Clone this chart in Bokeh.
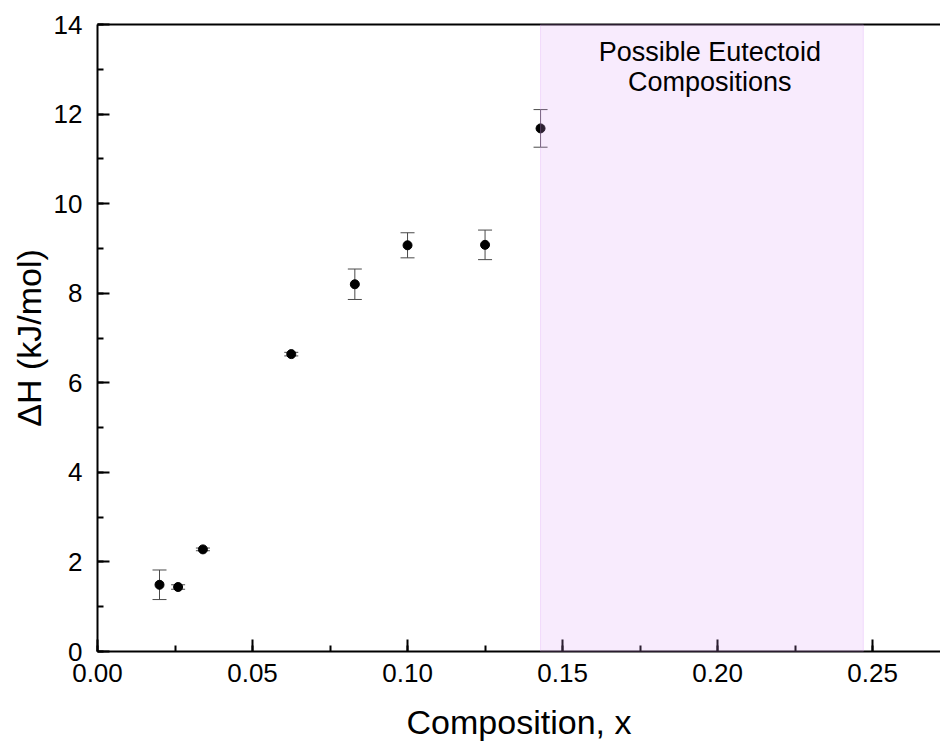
from bokeh.plotting import figure
from bokeh.models import (Range1d, LinearAxis, SingleIntervalTicker, FixedTicker,
                          NumeralTickFormatter, Whisker, ColumnDataSource, BoxAnnotation,
                          Label, TeeHead)
from bokeh.embed import file_html
from bokeh.resources import INLINE

# ---- data ----
composition = [0.020, 0.026, 0.034, 0.0625, 0.083, 0.100, 0.125, 0.1429]
delta_h = [1.49, 1.44, 2.28, 6.64, 8.20, 9.07, 9.08, 11.68]
delta_h_err = [0.33, 0.05, 0.03, 0.04, 0.34, 0.28, 0.33, 0.42]
eutectoid_range = [0.1429, 0.247]
eutectoid_label = "Possible Eutectoid\nCompositions"
eutectoid_label_pos = [0.1975, 13.72]
x_title = "Composition, x"
y_title = "ΔH (kJ/mol)"

FONT = "Liberation Sans"

src = ColumnDataSource(dict(
    x=composition, y=delta_h,
    lo=[a - b for a, b in zip(delta_h, delta_h_err)],
    hi=[a + b for a, b in zip(delta_h, delta_h_err)],
))

p = figure(width=940, height=749, output_backend="svg", toolbar_location=None,
           x_range=Range1d(0, 0.2719), y_range=Range1d(0, 14),
           min_border_left=97, min_border_right=0, min_border_top=24, min_border_bottom=98,
           x_axis_label=x_title, y_axis_label=y_title)
p.outline_line_color = None
p.grid.visible = False
p.background_fill_color = "white"
p.border_fill_color = "white"

# axes styling
for ax in (p.xaxis[0], p.yaxis[0]):
    ax.axis_line_width = 2
    ax.axis_line_color = "black"
    ax.major_tick_in = 12
    ax.major_tick_out = 0
    ax.minor_tick_in = 6
    ax.minor_tick_out = 0
    ax.major_tick_line_width = 2
    ax.minor_tick_line_width = 2
    ax.major_tick_line_color = "black"
    ax.minor_tick_line_color = "black"
    ax.major_label_text_font = FONT
    ax.major_label_text_font_size = "26px"
    ax.major_label_text_color = "black"
    ax.axis_label_text_font = FONT
    ax.axis_label_text_font_size = "34px"
    ax.axis_label_text_font_style = "normal"
    ax.axis_label_text_color = "black"

p.xaxis[0].ticker = SingleIntervalTicker(interval=0.05, num_minor_ticks=2)
p.xaxis[0].formatter = NumeralTickFormatter(format="0.00")
p.xaxis[0].major_label_standoff = 12
p.xaxis[0].axis_label_standoff = 18
p.yaxis[0].ticker = SingleIntervalTicker(interval=2, num_minor_ticks=2)
p.yaxis[0].major_label_standoff = 15
p.yaxis[0].axis_label_standoff = 3

# top frame line
top = LinearAxis(ticker=FixedTicker(ticks=[]), axis_line_width=2, axis_line_color="black",
                 major_tick_line_color=None, minor_tick_line_color=None)
p.add_layout(top, "above")

# error bars
w = Whisker(source=src, base="x", lower="lo", upper="hi", dimension="height",
            line_color="#4a4a4a", line_width=1,
            upper_head=TeeHead(size=14, line_color="#4a4a4a", line_width=1),
            lower_head=TeeHead(size=14, line_color="#4a4a4a", line_width=1))
p.add_layout(w)

p.scatter("x", "y", source=src, size=9, fill_color="black", line_color="black")

# shaded region
box = BoxAnnotation(left=eutectoid_range[0], right=eutectoid_range[1],
                    fill_color="#DC9BF5", fill_alpha=0.2,
                    line_color="#DC9BF5", line_alpha=0.3, line_width=1)
p.add_layout(box)

lab = Label(x=eutectoid_label_pos[0], y=eutectoid_label_pos[1], text=eutectoid_label,
            text_align="center", text_baseline="top", text_font=FONT,
            text_font_size="27px", text_color="black", text_line_height=1.0)
p.add_layout(lab)

open("out.html", "w").write(file_html(p, INLINE))
